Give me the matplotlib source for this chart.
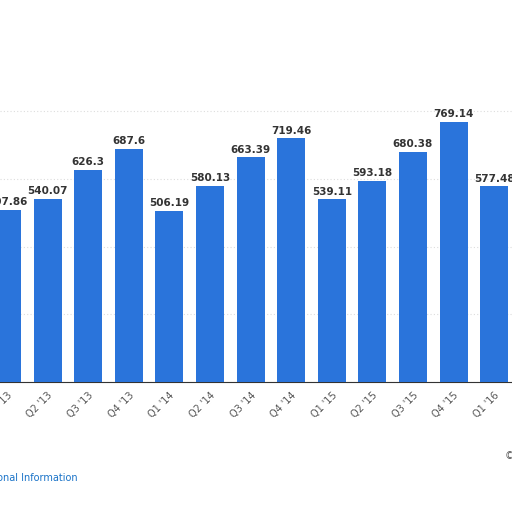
import matplotlib
matplotlib.use("Agg")
import matplotlib.pyplot as plt

categories = ["Q1 '13","Q2 '13","Q3 '13","Q4 '13","Q1 '14","Q2 '14","Q3 '14","Q4 '14",
              "Q1 '15","Q2 '15","Q3 '15","Q4 '15","Q1 '16"]
values = [507.86, 540.07, 626.3, 687.6, 506.19, 580.13, 663.39, 719.46,
          539.11, 593.18, 680.38, 769.14, 577.48]

fig = plt.figure(figsize=(5.12, 5.12), dpi=100)
ax = fig.add_axes([0, 130/512, 1, (382-60)/512])
x = list(range(len(values)))
ax.bar(x, values, width=0.69, color="#2a74db", zorder=3)
for xi, v in zip(x, values):
    ax.text(xi, v + 8, f"{v:g}", ha="center", va="bottom", fontsize=7.5,
            fontweight="bold", color="#333333", clip_on=False)
ax.set_xlim(-0.172, 12.44)
ax.set_ylim(0, 951)
ax.set_yticks([0, 200, 400, 600, 800])
ax.yaxis.grid(True, color="#dddddd", linestyle=(0, (1, 2)), linewidth=0.8, zorder=0)
ax.tick_params(axis="y", left=False, labelleft=False)
ax.set_xticks(x)
ax.set_xticklabels(categories, rotation=45, ha="right", rotation_mode="anchor",
                   fontsize=7, color="#555555")
ax.tick_params(axis="x", length=0, pad=6)
for s in ["top", "right", "left"]:
    ax.spines[s].set_visible(False)
ax.spines["bottom"].set_color("#333333")
fig.text(78/512, 1 - 478/512, "Additional Information", ha="right", va="center",
         fontsize=7, color="#1a73c8")
fig.text(505/512, 1 - 456/512, "©", ha="left", va="center", fontsize=7, color="#555555")
fig.savefig("out.png", dpi=100)
